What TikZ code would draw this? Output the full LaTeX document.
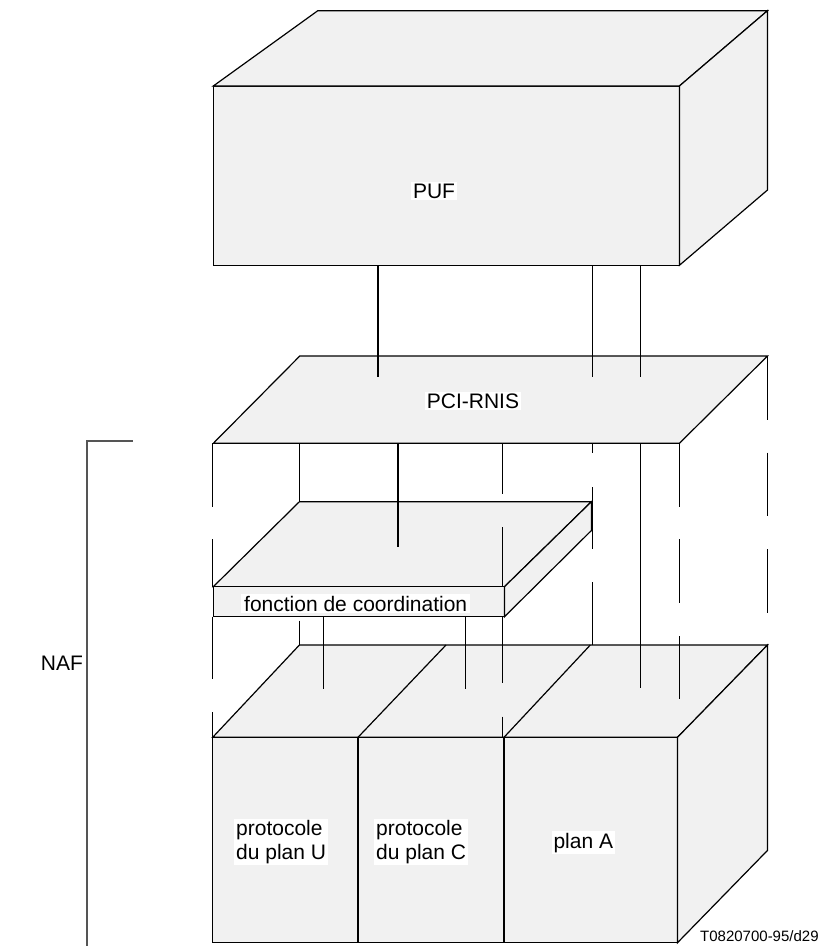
\documentclass[tikz,border=0pt]{standalone}
\usepackage{fontspec}
\setmainfont{Liberation Sans}
\definecolor{facegray}{RGB}{241,241,241}
\definecolor{bracketgray}{RGB}{85,85,85}
\begin{document}
\begin{tikzpicture}[x=1pt,y=-1pt,
  face/.style={fill=facegray,draw=black,line width=1.2pt,line join=miter},
  edge/.style={draw=black,line width=1.2pt},
  link/.style={draw=black,line width=1.1pt},
  lbl/.style={font=\fontsize{21}{24}\selectfont,fill=white,inner xsep=2pt,inner ysep=1.5pt},
  smalllbl/.style={font=\fontsize{15}{17}\selectfont,inner sep=0pt},
]
\useasboundingbox (0,0) rectangle (821,946);

% ---------- PUF block ----------
\coordinate (pufFTL) at (213.3,86);
\coordinate (pufFTR) at (679.4,86);
\coordinate (pufFBL) at (213.3,265.3);
\coordinate (pufFBR) at (679.4,265.3);
\coordinate (pufBTL) at (317.8,10.7);
\coordinate (pufBTR) at (767.5,10.7);
\coordinate (pufBBR) at (767.5,190);
\path[face] (pufFTL) -- (pufFTR) -- (pufFBR) -- (pufFBL) -- cycle;
\path[face] (pufFTL) -- (pufBTL) -- (pufBTR) -- (pufFTR) -- cycle;
\path[face] (pufFTR) -- (pufBTR) -- (pufBBR) -- (pufFBR) -- cycle;

% ---------- PCI-RNIS plane ----------
\coordinate (pciFL) at (213.3,443.3);
\coordinate (pciFR) at (679.4,443.3);
\coordinate (pciBL) at (299.8,356);
\coordinate (pciBR) at (767.5,356);
\path[face] (pciFL) -- (pciBL) -- (pciBR) -- (pciFR) -- cycle;

% ---------- coordination function slab ----------
\coordinate (cfFTL) at (213.3,586.7);
\coordinate (cfFTR) at (504.5,586.7);
\coordinate (cfFBL) at (213.3,616.7);
\coordinate (cfFBR) at (504.5,616.7);
\coordinate (cfBTL) at (299.4,501.7);
\coordinate (cfBTR) at (591.4,501.7);
\coordinate (cfBBR) at (591.4,530.5);
\path[face] (cfFTL) -- (cfBTL) -- (cfBTR) -- (cfFTR) -- cycle;
\path[face] (cfFTL) -- (cfFTR) -- (cfFBR) -- (cfFBL) -- cycle;
\path[face] (cfFTR) -- (cfBTR) -- (cfBBR) -- (cfFBR) -- cycle;

% ---------- lower block (three planes) ----------
\coordinate (loFTL) at (212.7,737.3);
\coordinate (loFTR) at (677.5,737.3);
\coordinate (loFBL) at (212.7,942.7);
\coordinate (loFBR) at (677.5,942.7);
\coordinate (loBTL) at (299.4,645);
\coordinate (loBTR) at (767.5,645);
\coordinate (loBBR) at (767.5,850.4);
\path[face] (loFTL) -- (loBTL) -- (loBTR) -- (loFTR) -- cycle;
\path[face] (loFTL) -- (loFTR) -- (loFBR) -- (loFBL) -- cycle;
\path[face] (loFTR) -- (loBTR) -- (loBBR) -- (loFBR) -- cycle;
% plane dividers
\coordinate (d1F) at (358,737.3);   \coordinate (d1B) at (446,645);
\coordinate (d2F) at (504,737.3);   \coordinate (d2B) at (590.3,645);
\draw[edge] (d1F) -- (d1B);
\draw[edge] (d2F) -- (d2B);
\draw[edge] (d1F) -- (d1F |- loFBL);
\draw[edge] (d2F) -- (d2F |- loFBL);

% ---------- links from PUF down to PCI-RNIS ----------
\foreach \x in {378,592.5,640.5}
  \draw[link] (\x,265.3) -- (\x,376.7);

% ---------- vertical links and hidden (broken) edges ----------
\foreach \x/\ya/\yb in {
    212.7/443.3/507.3, 212.7/539.3/586.7, 212.7/616.7/679.3, 212.7/712/737.3,
    299.4/443.3/501.7, 299.4/620.7/645,
    398/443.3/546.7,
    502.2/443.3/494, 502.2/527.3/586.7, 502.2/616.7/683.3, 502.2/716.7/737.3,
    323.3/616.7/689.3, 465.3/616.7/689.3,
    592.3/443.3/453.3, 592.3/487/549.3, 592.3/582.3/645,
    640.5/443.3/688.3,
    679.3/443.3/507.3, 679.3/539.3/603.3, 679.3/636/699.3,
    767.5/356/420, 767.5/452.7/516, 767.5/549.3/613.3}
  \draw[link] (\x,\ya) -- (\x,\yb);

% ---------- labels ----------
\node[lbl,anchor=base] (puf) at (434,198) {PUF};
\node[lbl,anchor=base] (pci) at (473,408.3) {PCI-RNIS};
\node[lbl,anchor=base west,inner xsep=3pt] (coord) at (241,611) {fonction de coordination};
\node[lbl,anchor=north west,align=left] (planU) at (234,818.5) {protocole\\du plan U};
\node[lbl,anchor=north west,align=left] (planC) at (374,818.5) {protocole\\du plan C};
\node[lbl,anchor=base west] (planA) at (551.3,848) {plan A};

% ---------- NAF bracket ----------
\coordinate (brTop) at (86.7,441);
\coordinate (brEnd) at (132.7,441);
\coordinate (brBot) at (86.7,946);
\draw[bracketgray,line width=1.6pt] (brEnd) -- (brTop) -- (brBot);
\node[font=\fontsize{21}{24}\selectfont,anchor=base,inner sep=0pt] (naf) at (62,670) {NAF};

\node[smalllbl,anchor=base west] (ref) at (700,941) {T0820700-95/d29};
\end{tikzpicture}
\end{document}
